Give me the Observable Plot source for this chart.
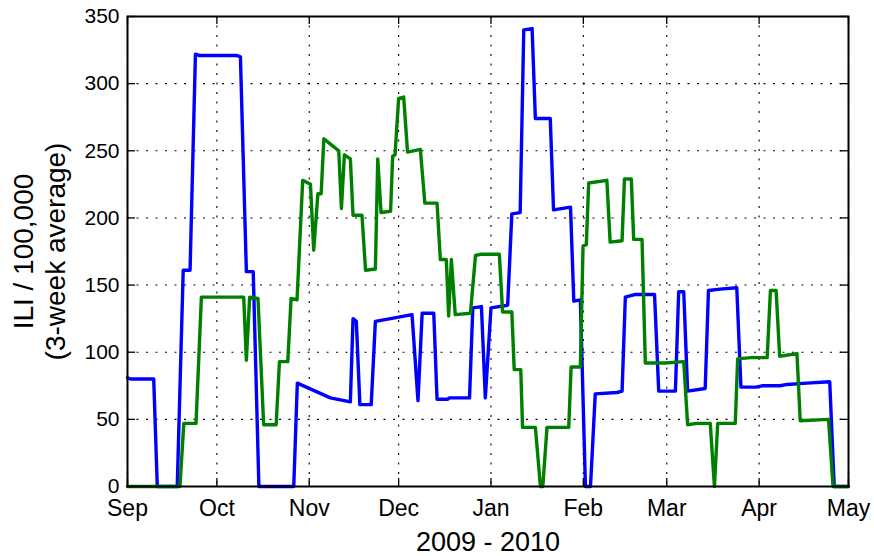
<!DOCTYPE html>
<html><head><meta charset="utf-8">
<script src="https://cdn.jsdelivr.net/npm/d3@7"></script>
<script src="https://cdn.jsdelivr.net/npm/@observablehq/plot@0.6"></script>
<style>
html,body{margin:0;padding:0;background:#fff;}
</style>
</head><body><div id="chart"></div>
<script>
// Time origin: x values are days after this date
const startDate = "2009-09-01";
const monthTicks = ["2009-09-01","2009-10-01","2009-11-01","2009-12-01","2010-01-01","2010-02-01","2010-03-01","2010-04-01","2010-05-01"];
const yTicks = [0, 50, 100, 150, 200, 250, 300, 350];
const xLabel = "2009 - 2010";
const yLabel = "ILI / 100,000\n(3-week average)";

// Blue series
const blueDays = [0,1,8.8,10,16.7,18.7,21,22.8,24,36.6,37.9,39.9,42.2,44.1,55.8,57,68.1,74.8,75.7,76.8,78,81.8,83.2,88.3,95.5,97.5,98.9,102.8,103.9,107.5,108,114.8,115.9,118.8,120.1,122,127.6,129,131.8,133,135.8,136.9,141.9,143,148.7,149.8,152,153.7,155.4,157,164.3,166,167.1,170.5,176.9,178.3,183.9,185,186.7,188,193.9,195,198.9,204.5,205.9,211,213,219,221.4,228,235.7,237.2,242];
const blueValues = [81,80,80,0,0,161,161,322,321,321,320,160,160,0,0,77,66,63,125,123,61,61,123,125,128,64,129,129,65,65,66,66,133,134,66,133,135,203,204,340,341,274,274,206,208,138,139,0,0,69,70,71,141,143,143,71,71,145,145,71,73,146,147,148,74,74,75,75,76,77,78,0,0];

// Green series
const greenDays = [0,17.6,18.9,23,24.8,39,39.9,41,43.8,45.7,49.9,51,53.8,54.9,56.9,58.8,61.4,62.5,63.9,65,65.9,68.1,70.9,71.8,72.8,74.8,75.7,78.7,79.9,83.2,84,85.1,88.3,89,89.8,91,92.7,94,98.3,99.8,103.9,105,107,107.8,108.7,110,115.1,116.8,118.8,124.8,125.9,129,129.8,132,132.6,136.9,138.6,139.4,140.8,148.1,148.9,152,152.9,154,154.8,160.9,162,166,166.8,169.1,169.9,172.7,173.8,180.5,186.7,188,191.1,195.6,197,198.1,204,204.8,209.1,214.7,215.8,217.7,218.9,224.7,225.8,235.3,236.8,242];
const greenValues = [0,0,47,47,141,141,94,141,140,46,46,93,93,140,139,228,225,176,218,218,259,255,250,207,247,244,202,202,161,162,244,204,205,246,247,289,290,249,251,211,211,169,169,127,169,128,129,172,173,173,130,130,87,87,44,44,0,0,44,44,89,89,179,180,226,228,182,183,229,229,184,184,92,92,93,46,47,47,0,47,47,95,96,96,146,146,97,99,49,50,0,0];

const t0 = Date.parse(startDate);
const toDate = d => new Date(t0 + d * 864e5);
const blue = blueDays.map((d, i) => ({date: toDate(d), value: blueValues[i]}));
const green = greenDays.map((d, i) => ({date: toDate(d), value: greenValues[i]}));
const monthDates = monthTicks.map(s => new Date(s));

const W = 874, H = 556, mL = 127, mR = 26, mT = 16, mB = 70;
const fw = W - mL - mR, fh = H - mT - mB;
const tickLen = 8;
const grid = {stroke: "black", strokeDasharray: "2,7.5", strokeWidth: 1.1};
const tk = {stroke: "black", strokeWidth: 1.3};

const chart = Plot.plot({
  width: W, height: H,
  marginLeft: mL, marginRight: mR, marginTop: mT, marginBottom: mB,
  style: {fontFamily: "'Liberation Sans', Arial, Helvetica, sans-serif", background: "white", color: "black"},
  x: {type: "utc", domain: [monthDates[0], monthDates[monthDates.length - 1]]},
  y: {domain: [0, 350]},
  marks: [
    Plot.ruleX(monthDates, {x: d => d, ...grid}),
    Plot.ruleY(yTicks, {y: d => d, ...grid}),
    Plot.line(blue, {x: "date", y: "value", stroke: "#0000ff", strokeWidth: 3.4, strokeLinejoin: "round"}),
    Plot.line(green, {x: "date", y: "value", stroke: "#008000", strokeWidth: 3.4, strokeLinejoin: "round"}),
    Plot.tickX(monthDates, {x: d => d, insetTop: fh - tickLen, ...tk}),
    Plot.tickX(monthDates, {x: d => d, insetBottom: fh - tickLen, ...tk}),
    Plot.tickY(yTicks, {y: d => d, insetRight: fw - tickLen, ...tk}),
    Plot.tickY(yTicks, {y: d => d, insetLeft: fw - tickLen, ...tk}),
    Plot.frame({stroke: "black", strokeWidth: 2}),
    Plot.axisX(monthDates, {tickSize: 0, tickPadding: 13, tickFormat: d3.utcFormat("%b"), fontSize: 23, label: null}),
    Plot.axisY(yTicks, {tickSize: 0, tickPadding: 8, fontSize: 21, label: null}),
    Plot.text([yLabel], {text: d => d, frameAnchor: "left", dx: -89, rotate: -90, fontSize: 28, lineHeight: 1.15, textAnchor: "middle", lineAnchor: "middle", fill: "black"}),
    Plot.text([xLabel], {text: d => d, frameAnchor: "bottom", dy: 56, fontSize: 27, textAnchor: "middle", lineAnchor: "middle", fill: "black"})
  ]
});
document.getElementById("chart").appendChild(chart);
</script>
</body></html>
